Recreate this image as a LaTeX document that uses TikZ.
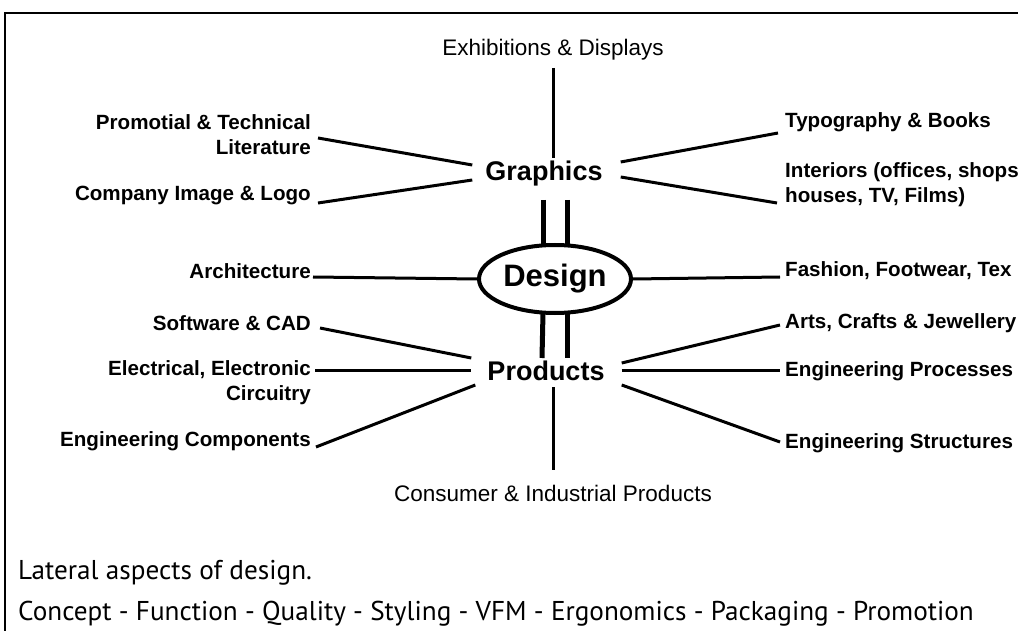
\documentclass[tikz,border=0pt]{standalone}
\usepackage{fontspec}
\setmainfont{Liberation Sans}
\newfontfamily\capfont{PT Sans}
\usetikzlibrary{shapes.geometric,calc}
\begin{document}
\begin{tikzpicture}[x=1pt,y=-1pt,
  lbl/.style={font=\bfseries\fontsize{20.6}{25}\selectfont, inner sep=0pt},
  hub/.style={font=\bfseries\fontsize{27}{30}\selectfont, inner sep=0pt},
  core/.style={font=\bfseries\fontsize{31}{34}\selectfont, ellipse, draw, line width=4pt,
               inner sep=0pt, minimum width=152pt, minimum height=68pt},
  plain/.style={font=\fontsize{22.5}{26}\selectfont, inner sep=0pt},
  caption/.style={font=\capfont\fontsize{27.2}{31}\selectfont, inner sep=0pt, anchor=west},
  link/.style={line width=3pt},
  dbl/.style={line width=5pt}]
\useasboundingbox (0,0) rectangle (1018,631);
\clip (0,0) rectangle (1018,631);
\fill[white] (0,0) rectangle (1018,631);

% frame
\draw[line width=2pt] (5,631) -- (5,13) -- (1018,13);

% hubs
\node[hub] (gr) at (544,174) {Graphics};
\node[core] (de) at (555,279) {Design};
\node[hub] (pr) at (546,371) {Products};
\node[plain] (ex) at (553,50) {Exhibitions \& Displays};
\node[plain] (cip) at (553,493) {Consumer \& Industrial Products};

% left labels
\node[lbl, anchor=east, align=right] (promo) at (311,135) {Promotial \& Technical\\Literature};
\node[lbl, anchor=east] (logo) at (311,195) {Company Image \& Logo};
\node[lbl, anchor=east] (arch) at (311,271) {Architecture};
\node[lbl, anchor=east] (soft) at (311,323) {Software \& CAD};
\node[lbl, anchor=east, align=right] (elec) at (311,383) {Electrical, Electronic\\Circuitry};
\node[lbl, anchor=east] (comp) at (311,441) {Engineering Components};

% right labels
\node[lbl, anchor=west] (typo) at (785,122) {Typography \& Books};
\node[lbl, anchor=west, align=left] (inter) at (785,185) {Interiors (offices, shops\\houses, TV, Films)};
\node[lbl, anchor=west] (fash) at (785,271) {Fashion, Footwear, Tex};
\node[lbl, anchor=west] (arts) at (785,323) {Arts, Crafts \& Jewellery};
\node[lbl, anchor=west] (proc) at (785,371) {Engineering Processes};
\node[lbl, anchor=west] (struct) at (785,443) {Engineering Structures};

% caption
\node[caption] (lat) at (18,573) {Lateral aspects of design.};
\node[caption] (conc) at (18,614) {Concept - Function - Quality - Styling - VFM - Ergonomics - Packaging - Promotion};

% vertical spine
\draw[link] ($(ex.center)+(0,18)$) -- ($(gr.center)+(9,-16)$);
\draw[dbl] ($(gr.center)+(-1,26)$) -- ($(de.center)+(-12,-34)$);
\draw[dbl] ($(gr.center)+(23,26)$) -- ($(de.center)+(12,-34)$);
\draw[dbl] ($(de.center)+(-12,34)$) -- ($(pr.center)+(-4,-13)$);
\draw[dbl] ($(de.center)+(12,34)$) -- ($(pr.center)+(21,-13)$);
\draw[link] ($(pr.center)+(7,16)$) -- ($(cip.center)+(0,-23)$);

% Graphics spokes
\draw[link] ($(promo.east)+(7,3)$) -- ($(gr.west)+(-13,-9)$);
\draw[link] ($(logo.east)+(7,8)$) -- ($(gr.west)+(-13,6)$);
\draw[link] ($(gr.east)+(18,-12)$) -- ($(typo.west)+(-7,11)$);
\draw[link] ($(gr.east)+(18,3)$) -- ($(inter.west)+(-8,18)$);

% Design spokes
\draw[link] ($(arch.east)+(2,6)$) -- (de.west);
\draw[link] (de.east) -- ($(fash.west)+(-5,6)$);

% Products spokes
\draw[link] ($(soft.east)+(9,5)$) -- ($(pr.west)+(-16,-13)$);
\draw[link] ($(elec.east)+(4,-13)$) -- ($(pr.west)+(-16,-1)$);
\draw[link] ($(comp.east)+(5,6)$) -- ($(pr.west)+(-12,14)$);
\draw[link] ($(pr.east)+(17,-8)$) -- ($(arts.west)+(-5,2)$);
\draw[link] ($(pr.east)+(17,-1)$) -- ($(proc.west)+(-5,-1)$);
\draw[link] ($(pr.east)+(17,14)$) -- ($(struct.west)+(-5,-1)$);
\end{tikzpicture}
\end{document}
